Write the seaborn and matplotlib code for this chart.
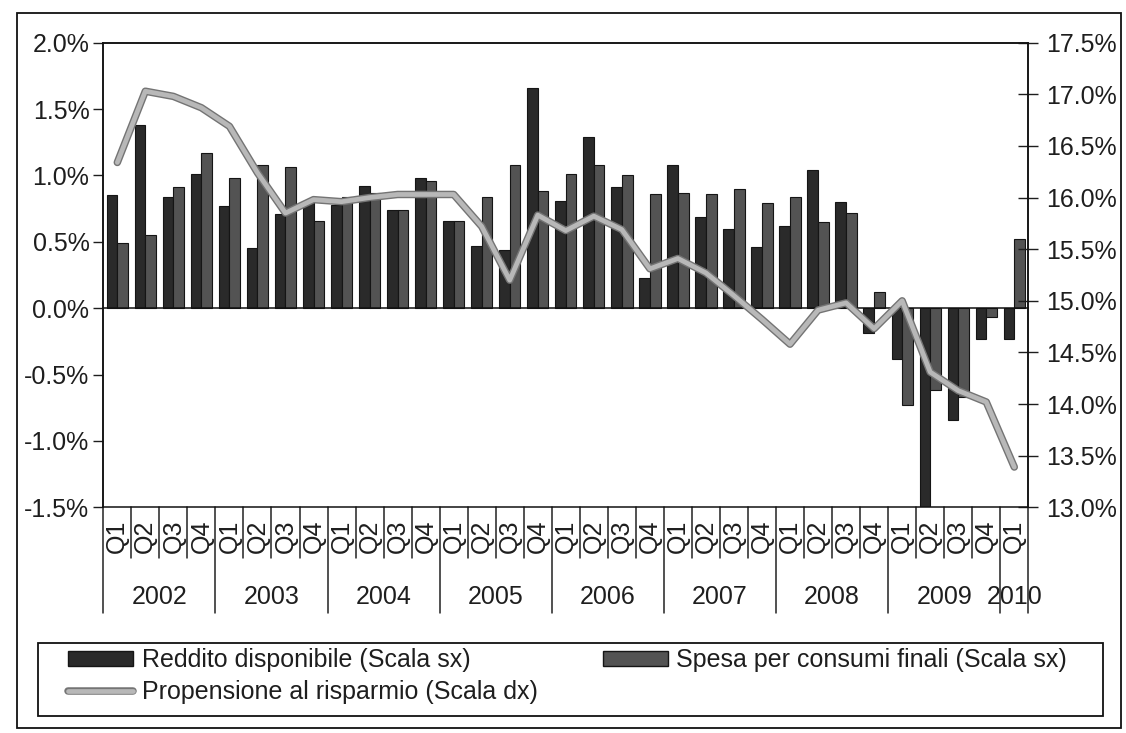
import numpy as np
import pandas as pd
import matplotlib
matplotlib.use("Agg")
import matplotlib.pyplot as plt
import matplotlib.transforms as mtransforms
import matplotlib.patheffects as pe
from matplotlib.patches import Rectangle, Patch
from matplotlib.lines import Line2D
import seaborn as sns

# ---------------- data ----------------
years = ["2002"] * 4 + ["2003"] * 4 + ["2004"] * 4 + ["2005"] * 4 + ["2006"] * 4 + \
        ["2007"] * 4 + ["2008"] * 4 + ["2009"] * 4 + ["2010"]
quarters = ["Q1", "Q2", "Q3", "Q4"] * 8 + ["Q1"]

reddito = [0.85, 1.38, 0.84, 1.01, 0.77, 0.45, 0.71, 0.81,
           0.78, 0.92, 0.74, 0.98, 0.66, 0.47, 0.44, 1.66,
           0.81, 1.29, 0.91, 0.23, 1.08, 0.69, 0.60, 0.46,
           0.62, 1.04, 0.80, -0.19, -0.38, -1.50, -0.84, -0.23,
           -0.23]
spesa = [0.49, 0.55, 0.91, 1.17, 0.98, 1.08, 1.06, 0.66,
         0.84, 0.87, 0.74, 0.96, 0.66, 0.84, 1.08, 0.88,
         1.01, 1.08, 1.00, 0.86, 0.87, 0.86, 0.90, 0.79,
         0.84, 0.65, 0.72, 0.12, -0.73, -0.62, -0.67, -0.07,
         0.52]
propensione = [16.34, 17.03, 16.98, 16.87, 16.69, 16.24, 15.85, 15.98,
               15.96, 16.00, 16.03, 16.03, 16.03, 15.72, 15.20, 15.83,
               15.68, 15.82, 15.69, 15.31, 15.41, 15.27, 15.05, 14.82,
               14.58, 14.91, 14.98, 14.73, 15.00, 14.31, 14.13, 14.02,
               13.39]

lab_red = "Reddito disponibile (Scala sx)"
lab_spe = "Spesa per consumi finali (Scala sx)"
lab_pro = "Propensione al risparmio (Scala dx)"

# ---------------- style ----------------
sns.set_style("white")
plt.rcParams["font.family"] = ["Liberation Sans", "DejaVu Sans"]
plt.rcParams["text.color"] = "#1e1e1e"
plt.rcParams["axes.unicode_minus"] = False
FS = 18

W, H = 1126, 733
fig = plt.figure(figsize=(W / 100, H / 100), dpi=100)
fig.patch.set_facecolor("white")

L, R, T, B = 103.3, 1028.3, 42.7, 507.3
ax = fig.add_axes([L / W, 1 - B / H, (R - L) / W, (B - T) / H])

periods = [f"{y} {q}" for y, q in zip(years, quarters)]
df = pd.DataFrame({
    "periodo": periods * 2,
    "serie": [lab_red] * len(periods) + [lab_spe] * len(periods),
    "valore": reddito + spesa,
})

c_red = "#2a2a2a"
c_spe = "#535353"
sns.barplot(data=df, x="periodo", y="valore", hue="serie", order=periods,
            hue_order=[lab_red, lab_spe], palette=[c_red, c_spe],
            width=0.76, saturation=1, edgecolor="#151515", linewidth=0.8,
            ax=ax, legend=False)

n = len(periods)
ax.set_xlim(-0.5, n - 0.5)
ax.set_ylim(-1.5, 2.0)
ax.set_xlabel("")
ax.set_ylabel("")

lticks = [round(v, 1) + 0.0 for v in np.arange(-1.5, 2.01, 0.5)]
ax.set_yticks(lticks)
ax.set_yticklabels([f"{v:.1f}%" for v in lticks], fontsize=FS)
ax.tick_params(axis="y", direction="out", length=7, width=1, pad=3, colors="#1e1e1e")

# category axis crossing at zero with ticks at category boundaries
ax.spines["bottom"].set_position(("data", 0))
ax.set_xticks(np.arange(0.5, n - 1, 1.0))
ax.tick_params(axis="x", direction="out", length=5, width=1, labelbottom=False)
for s in ["left", "top", "right", "bottom"]:
    ax.spines[s].set_color("#111111")
    ax.spines[s].set_linewidth(1.1)

# secondary axis with the line
ax2 = ax.twinx()
sns.lineplot(x=np.arange(n), y=propensione, ax=ax2, color="#b8b8b8", linewidth=3.4,
             path_effects=[pe.Stroke(linewidth=5.4, foreground="#747474"), pe.Normal()])
ax2.set_ylim(13.0, 17.5)
rticks = [round(v, 1) for v in np.arange(13.0, 17.51, 0.5)]
ax2.set_yticks(rticks)
ax2.set_yticklabels([f"{v:.1f}%" for v in rticks], fontsize=FS)
ax2.tick_params(axis="y", direction="inout", length=14, width=1, pad=6, colors="#1e1e1e")
ax2.set_ylabel("")
for s in ["left", "top", "right", "bottom"]:
    ax2.spines[s].set_color("#111111")
    ax2.spines[s].set_linewidth(1.1)

# ---------------- multi-level category labels ----------------
tr = mtransforms.blended_transform_factory(ax.transData, ax.transAxes)
ah = B - T
for i, q in enumerate(quarters):
    ax.text(i, -29 / ah, q, rotation=90, ha="center", va="center",
            fontsize=FS, transform=tr, clip_on=False)

year_order = list(dict.fromkeys(years))
for y in year_order:
    idx = [i for i, yy in enumerate(years) if yy == y]
    ax.text(np.mean(idx), -90 / ah, y, ha="center", va="center",
            fontsize=FS, transform=tr, clip_on=False)

for b in range(n + 1):
    xb = b - 0.5
    is_year = b == 0 or b == n or years[b] != years[b - 1]
    y1 = -106 / ah if is_year else -51 / ah
    ax.add_line(Line2D([xb, xb], [0, y1], transform=tr, color="#222222",
                       lw=1.1, clip_on=False))

# ---------------- frames and legend ----------------
fig.add_artist(Rectangle((17 / W, 1 - 728 / H), (1121 - 17) / W, (728 - 13) / H,
                         transform=fig.transFigure, fill=False, ec="#111111", lw=1.3))
fig.add_artist(Rectangle((38 / W, 1 - 716 / H), (1103 - 38) / W, (716 - 643) / H,
                         transform=fig.transFigure, fill=False, ec="#111111", lw=1.3))

h_red = Patch(facecolor=c_red, edgecolor="#151515")
h_spe = Patch(facecolor=c_spe, edgecolor="#151515")
h_pro = Line2D([], [], color="#b8b8b8", lw=3.4,
               path_effects=[pe.Stroke(linewidth=5.4, foreground="#747474"), pe.Normal()])
fig.legend(handles=[h_red, h_pro, h_spe], labels=[lab_red, lab_pro, lab_spe],
           ncol=2, loc="upper left", bbox_to_anchor=(68 / W, 1 - 648 / H),
           frameon=False, fontsize=FS, handlelength=2.6, handleheight=0.55,
           handletextpad=0.35, columnspacing=2.6, labelspacing=0.32,
           borderpad=0, borderaxespad=0)

fig.savefig("out.png", dpi=100, facecolor="white")
